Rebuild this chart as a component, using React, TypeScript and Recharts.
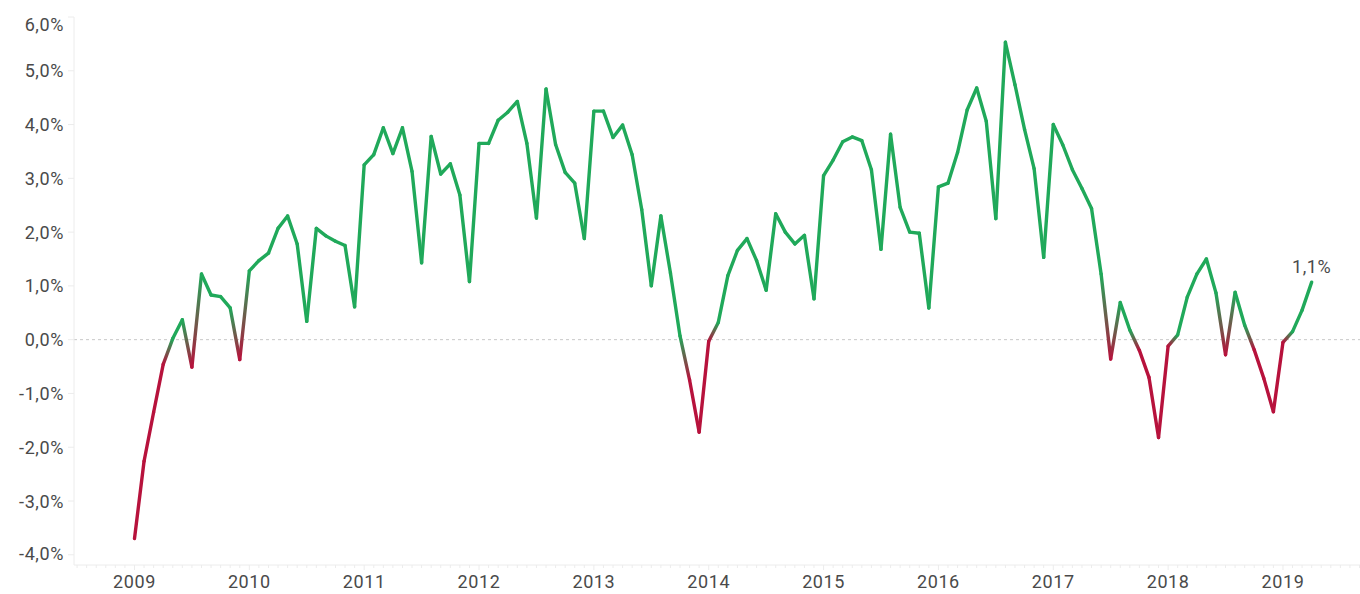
import React from "react";
import {
  LineChart,
  Line,
  XAxis,
  YAxis,
  ReferenceLine,
  LabelList,
} from "recharts";

// Monthly values, Jan 2009 .. Apr 2019 (year-over-year %)
const values2009 = [-3.7, -2.26, -1.35, -0.46, 0.02, 0.37, -0.51, 1.22, 0.83, 0.8, 0.59, -0.37];
const values2010 = [1.28, 1.47, 1.61, 2.07, 2.3, 1.78, 0.34, 2.07, 1.93, 1.83, 1.75, 0.61];
const values2011 = [3.25, 3.44, 3.94, 3.46, 3.94, 3.13, 1.43, 3.78, 3.08, 3.27, 2.69, 1.08];
const values2012 = [3.65, 3.65, 4.08, 4.23, 4.43, 3.65, 2.26, 4.66, 3.63, 3.11, 2.91, 1.88];
const values2013 = [4.25, 4.25, 3.76, 3.99, 3.44, 2.42, 1.0, 2.3, 1.24, 0.07, -0.75, -1.72];
const values2014 = [-0.03, 0.32, 1.19, 1.66, 1.88, 1.47, 0.92, 2.34, 2.0, 1.78, 1.94, 0.76];
const values2015 = [3.05, 3.34, 3.68, 3.77, 3.7, 3.16, 1.68, 3.82, 2.46, 2.0, 1.98, 0.59];
const values2016 = [2.84, 2.91, 3.48, 4.27, 4.68, 4.06, 2.25, 5.53, 4.74, 3.91, 3.18, 1.53];
const values2017 = [4.0, 3.62, 3.16, 2.81, 2.44, 1.22, -0.36, 0.69, 0.18, -0.2, -0.7, -1.82];
const values2018 = [-0.12, 0.09, 0.79, 1.22, 1.5, 0.87, -0.28, 0.88, 0.27, -0.19, -0.72, -1.34];
const values2019 = [-0.05, 0.15, 0.55, 1.07];

const seriesValues = [
  ...values2009, ...values2010, ...values2011, ...values2012, ...values2013,
  ...values2014, ...values2015, ...values2016, ...values2017, ...values2018, ...values2019,
];

const yearLabels = ["2009", "2010", "2011", "2012", "2013", "2014", "2015", "2016", "2017", "2018", "2019"];
const yTicks = [-4, -3, -2, -1, 0, 1, 2, 3, 4, 5, 6];

const GREEN = "#20A95A";
const RED = "#B7123C";
const TEXT = "#4a4a4a";
const AXIS = "#ececec";
const FONT = "Roboto, 'Noto Sans', sans-serif";
const FS = 18;
const LS = 0.6;

const data = seriesValues.map((v, i) => ({ m: i, v }));
const monthTicks: number[] = [];
for (let t = -6; t <= 128; t++) monthTicks.push(t);

const fmt = (v: number) => `${v.toFixed(1).replace(".", ",")}%`;

const XTick = (props: any) => {
  const { x, y, payload } = props;
  const isYear = payload.value % 12 === 0 && payload.value >= 0 && payload.value / 12 < yearLabels.length;
  return (
    <g>
      <line x1={x} x2={x} y1={y} y2={y + (isYear ? 5 : 3)} stroke={AXIS} strokeWidth={1} />
      {isYear && (
        <text
          x={x}
          y={y + 16}
          textAnchor="middle"
          dominantBaseline="central"
          fill={TEXT}
          fontSize={FS}
          fontFamily={FONT}
          letterSpacing={LS}
        >
          {yearLabels[payload.value / 12]}
        </text>
      )}
    </g>
  );
};

const YTick = (props: any) => {
  const { x, y, payload } = props;
  const ty = payload.value === 6 ? y + 7 : payload.value === -4 ? y - 1 : y;
  return (
    <g>
      <line x1={x - 6} x2={x} y1={y} y2={y} stroke={AXIS} strokeWidth={1} />
      <text
        x={x - 10}
        y={ty}
        textAnchor="end"
        dominantBaseline="central"
        fill={TEXT}
        fontSize={FS}
        fontFamily={FONT}
        letterSpacing={LS}
      >
        {fmt(payload.value)}
      </text>
    </g>
  );
};

const colorOf = (v: number) => (v < 0 ? RED : GREEN);

const SegmentDot = (props: any) => {
  const { index, points } = props;
  if (!points || index >= points.length - 1) return <g key={`s-${index}`} />;
  const p0 = points[index];
  const p1 = points[index + 1];
  const c0 = colorOf(p0.value);
  const c1 = colorOf(p1.value);
  const id = `seg-grad-${index}`;
  return (
    <g key={`s-${index}`}>
      {c0 !== c1 && (
        <defs>
          <linearGradient id={id} gradientUnits="userSpaceOnUse" x1={p0.x} y1={p0.y} x2={p1.x} y2={p1.y}>
            <stop offset="0%" stopColor={c0} />
            <stop offset="100%" stopColor={c1} />
          </linearGradient>
        </defs>
      )}
      <line
        x1={p0.x}
        y1={p0.y}
        x2={p1.x}
        y2={p1.y}
        stroke={c0 === c1 ? c0 : `url(#${id})`}
        strokeWidth={3.4}
        strokeLinecap="round"
      />
    </g>
  );
};

const LastLabel = (props: any) => {
  const { x, y, index, value } = props;
  if (index !== seriesValues.length - 1) return null;
  return (
    <text
      x={x}
      y={y - 16}
      textAnchor="middle"
      dominantBaseline="central"
      fill={TEXT}
      fontSize={FS}
      fontFamily={FONT}
      letterSpacing={LS}
    >
      {fmt(value)}
    </text>
  );
};

export default function App() {
  return (
    <div style={{ position: "absolute", left: 0, top: 0, width: 1360, height: 594, background: "#fff" }}>
      <LineChart width={1360} height={594} data={data} margin={{ top: 17, right: 0, bottom: 0, left: 0 }}>
        <XAxis
          dataKey="m"
          type="number"
          domain={[-6.32, 128.05]}
          ticks={monthTicks}
          interval={0}
          height={29}
          tick={<XTick />}
          tickLine={false}
          tickSize={0}
          tickMargin={0}
          axisLine={{ stroke: AXIS }}
          allowDataOverflow
        />
        <YAxis
          type="number"
          domain={[-4.19, 6]}
          ticks={yTicks}
          interval={0}
          width={74}
          tick={<YTick />}
          tickLine={false}
          tickSize={0}
          tickMargin={0}
          axisLine={{ stroke: AXIS }}
          allowDataOverflow
        />
        <ReferenceLine y={0} stroke="#c8c8c8" strokeDasharray="3 3" strokeWidth={1} />
        <Line
          type="linear"
          dataKey="v"
          stroke="transparent"
          strokeWidth={3.4}
          dot={<SegmentDot />}
          activeDot={false}
          isAnimationActive={false}
        >
          <LabelList dataKey="v" content={<LastLabel />} />
        </Line>
      </LineChart>
    </div>
  );
}
